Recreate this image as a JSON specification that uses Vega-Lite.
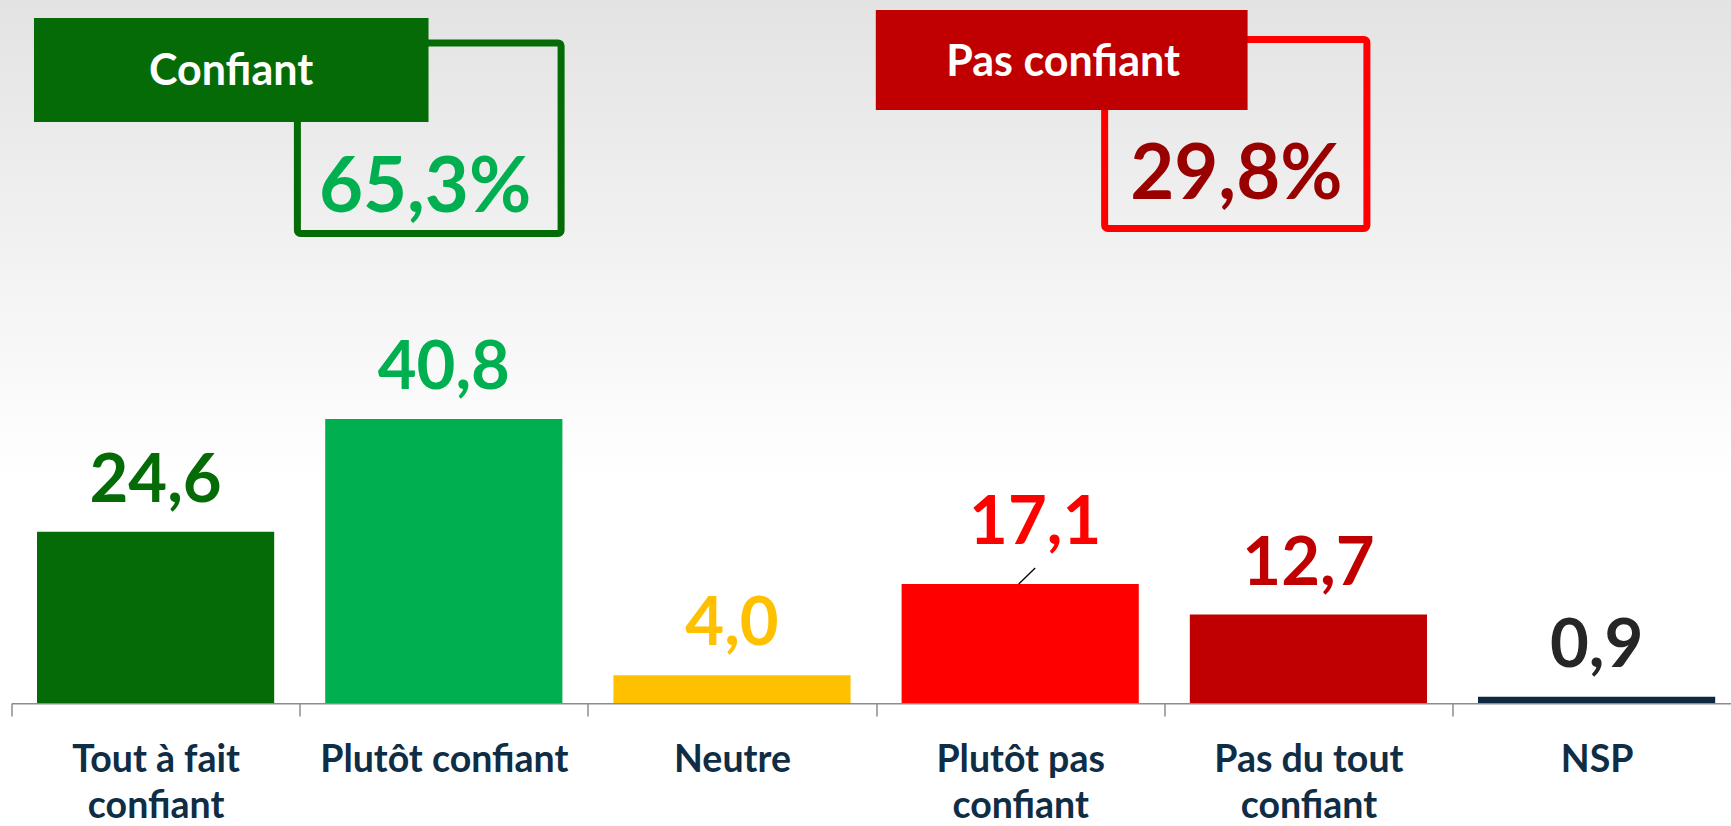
{
  "$schema": "https://vega.github.io/schema/vega-lite/v6.json",
  "width": 1719.5,
  "height": 703,
  "autosize": {"type": "none"},
  "padding": {"left": 11.5, "top": 0, "right": 0, "bottom": 123},
  "background": "#ffffff",
  "config": {
    "view": {"stroke": null},
    "locale": {"number": {"decimal": ",", "thousands": " ", "grouping": [3], "currency": ["", " €"]}},
    "text": {"font": "Lato", "fontWeight": "bold"}
  },
  "datasets": {
    "resultats": [
      {"categorie": "Tout à fait confiant", "valeur": 24.6},
      {"categorie": "Plutôt confiant", "valeur": 40.8},
      {"categorie": "Neutre", "valeur": 4.0},
      {"categorie": "Plutôt pas confiant", "valeur": 17.1},
      {"categorie": "Pas du tout confiant", "valeur": 12.7},
      {"categorie": "NSP", "valeur": 0.9}
    ],
    "blocs": [
      {"groupe": "Confiant", "total": 0.653},
      {"groupe": "Pas confiant", "total": 0.298}
    ]
  },
  "resolve": {"scale": {"x": "independent", "color": "independent", "fill": "independent", "stroke": "independent"}, "axis": {"x": "independent"}},
  "layer": [
    {
      "data": {"name": "blocs"},
      "layer": [
        {
          "data": {"values": [{}]},
          "mark": {"type": "rect", "color": {"gradient": "linear", "x1": 0, "y1": 0, "x2": 0, "y2": 1, "stops": [{"offset": 0, "color": "#e3e3e3"}, {"offset": 0.68, "color": "#ffffff"}, {"offset": 1, "color": "#ffffff"}]}},
          "encoding": {
            "x": {"datum": -0.04, "type": "quantitative", "scale": {"domain": [0, 6], "range": [0, 1729.2], "nice": false, "zero": false}, "axis": null},
            "x2": {"datum": 6},
            "y": {"datum": 101, "type": "quantitative", "axis": null},
            "y2": {"datum": 0}
          }
        },
        {
          "transform": [{"filter": "datum.groupe === 'Confiant'"}],
          "mark": {"type": "rect", "filled": false, "stroke": "#056B06", "strokeWidth": 7, "cornerRadius": 3},
          "encoding": {
            "x": {"datum": 0.992, "type": "quantitative", "axis": null},
            "x2": {"datum": 1.907},
            "y": {"datum": 94.83, "type": "quantitative", "axis": null},
            "y2": {"datum": 67.46}
          }
        },
        {
          "transform": [{"filter": "datum.groupe === 'Confiant'"}],
          "mark": {"type": "rect", "color": "#056B06"},
          "encoding": {
            "x": {"datum": 0.078, "type": "quantitative", "axis": null},
            "x2": {"datum": 1.447},
            "y": {"datum": 98.42, "type": "quantitative", "axis": null},
            "y2": {"datum": 83.48}
          }
        },
        {
          "transform": [{"filter": "datum.groupe === 'Confiant'"}],
          "mark": {"type": "text", "color": "#ffffff", "fontSize": 43, "align": "center", "baseline": "alphabetic"},
          "encoding": {
            "x": {"datum": 0.762, "type": "quantitative", "axis": null},
            "y": {"datum": 88.8, "type": "quantitative", "axis": null},
            "text": {"field": "groupe"}
          }
        },
        {
          "transform": [{"filter": "datum.groupe === 'Confiant'"}],
          "mark": {"type": "text", "color": "#00B050", "fontSize": 76, "align": "center", "baseline": "alphabetic"},
          "encoding": {
            "x": {"datum": 1.435, "type": "quantitative", "axis": null},
            "y": {"datum": 70.5, "type": "quantitative", "axis": null},
            "text": {"field": "total", "type": "quantitative", "format": ".1%"}
          }
        },
        {
          "transform": [{"filter": "datum.groupe === 'Pas confiant'"}],
          "mark": {"type": "rect", "filled": false, "stroke": "#FF0000", "strokeWidth": 7, "cornerRadius": 3},
          "encoding": {
            "x": {"datum": 3.793, "type": "quantitative", "axis": null},
            "x2": {"datum": 4.703},
            "y": {"datum": 95.33, "type": "quantitative", "axis": null},
            "y2": {"datum": 68.18}
          }
        },
        {
          "transform": [{"filter": "datum.groupe === 'Pas confiant'"}],
          "mark": {"type": "rect", "color": "#C00000"},
          "encoding": {
            "x": {"datum": 2.999, "type": "quantitative", "axis": null},
            "x2": {"datum": 4.289},
            "y": {"datum": 99.57, "type": "quantitative", "axis": null},
            "y2": {"datum": 85.2}
          }
        },
        {
          "transform": [{"filter": "datum.groupe === 'Pas confiant'"}],
          "mark": {"type": "text", "color": "#ffffff", "fontSize": 43, "align": "center", "baseline": "alphabetic"},
          "encoding": {
            "x": {"datum": 3.649, "type": "quantitative", "axis": null},
            "y": {"datum": 90.09, "type": "quantitative", "axis": null},
            "text": {"field": "groupe"}
          }
        },
        {
          "transform": [{"filter": "datum.groupe === 'Pas confiant'"}],
          "mark": {"type": "text", "color": "#990000", "fontSize": 76, "align": "center", "baseline": "alphabetic"},
          "encoding": {
            "x": {"datum": 4.25, "type": "quantitative", "axis": null},
            "y": {"datum": 72.41, "type": "quantitative", "axis": null},
            "text": {"field": "total", "type": "quantitative", "format": ".1%"}
          }
        }
      ]
    },
    {
      "data": {"name": "resultats"},
      "encoding": {
        "x": {
          "field": "categorie",
          "type": "nominal",
          "sort": null,
          "scale": {"type": "band", "paddingInner": 0, "paddingOuter": 0, "range": [0, 1729.2]},
          "axis": {
            "title": null,
            "labelAngle": 0,
            "labelFont": "Lato",
            "labelFontWeight": "bold",
            "labelFontSize": 37.5,
            "labelColor": "#0F2D45",
            "labelPadding": 25,
            "labelLineHeight": 46,
            "labelBaseline": "top",
            "labelLimit": 0,
            "labelOverlap": false,
            "domainColor": "#8C8C8C",
            "domainWidth": 2,
            "tickColor": "#8C8C8C",
            "tickWidth": 1.5,
            "tickSize": 13,
            "tickBand": "extent",
            "labelExpr": "datum.label == 'Tout à fait confiant' ? ['Tout à fait', 'confiant'] : datum.label == 'Plutôt pas confiant' ? ['Plutôt pas', 'confiant'] : datum.label == 'Pas du tout confiant' ? ['Pas du tout', 'confiant'] : datum.label"
          }
        },
        "y": {"field": "valeur", "type": "quantitative", "scale": {"domain": [0, 101], "nice": false, "zero": true}, "axis": null}
      },
      "layer": [
        {
          "mark": {"type": "bar", "width": {"band": 0.823}},
          "encoding": {
            "color": {
              "field": "categorie",
              "type": "nominal",
              "scale": {
                "domain": ["Tout à fait confiant", "Plutôt confiant", "Neutre", "Plutôt pas confiant", "Pas du tout confiant", "NSP"],
                "range": ["#056B06", "#00B050", "#FFC000", "#FF0000", "#C00000", "#0E2841"]
              },
              "legend": null
            }
          }
        },
        {
          "transform": [{"filter": "datum.categorie !== 'Plutôt pas confiant'"}],
          "mark": {"type": "text", "baseline": "alphabetic", "align": "center", "dy": -30, "fontSize": 67},
          "encoding": {
            "text": {"field": "valeur", "type": "quantitative", "format": ".1f"},
            "fill": {
              "field": "categorie",
              "type": "nominal",
              "scale": {
                "domain": ["Tout à fait confiant", "Plutôt confiant", "Neutre", "Plutôt pas confiant", "Pas du tout confiant", "NSP"],
                "range": ["#056B06", "#00B050", "#FFC000", "#FF0000", "#C00000", "#262626"]
              },
              "legend": null
            }
          }
        },
        {
          "transform": [{"filter": "datum.categorie === 'Plutôt pas confiant'"}],
          "mark": {"type": "text", "baseline": "alphabetic", "align": "center", "dx": 15, "dy": -40, "fontSize": 67},
          "encoding": {
            "text": {"field": "valeur", "type": "quantitative", "format": ".1f"},
            "fill": {
              "field": "categorie",
              "type": "nominal",
              "legend": null
            }
          }
        },
        {
          "transform": [{"filter": "datum.categorie === 'Plutôt pas confiant'"}],
          "mark": {"type": "rule", "color": "#000000", "strokeWidth": 1.3, "xOffset": -1.5, "x2Offset": 15, "y2Offset": -16},
          "encoding": {
            "x2": {"field": "categorie"},
            "y2": {"field": "valeur"}
          }
        }
      ]
    }
  ]
}
